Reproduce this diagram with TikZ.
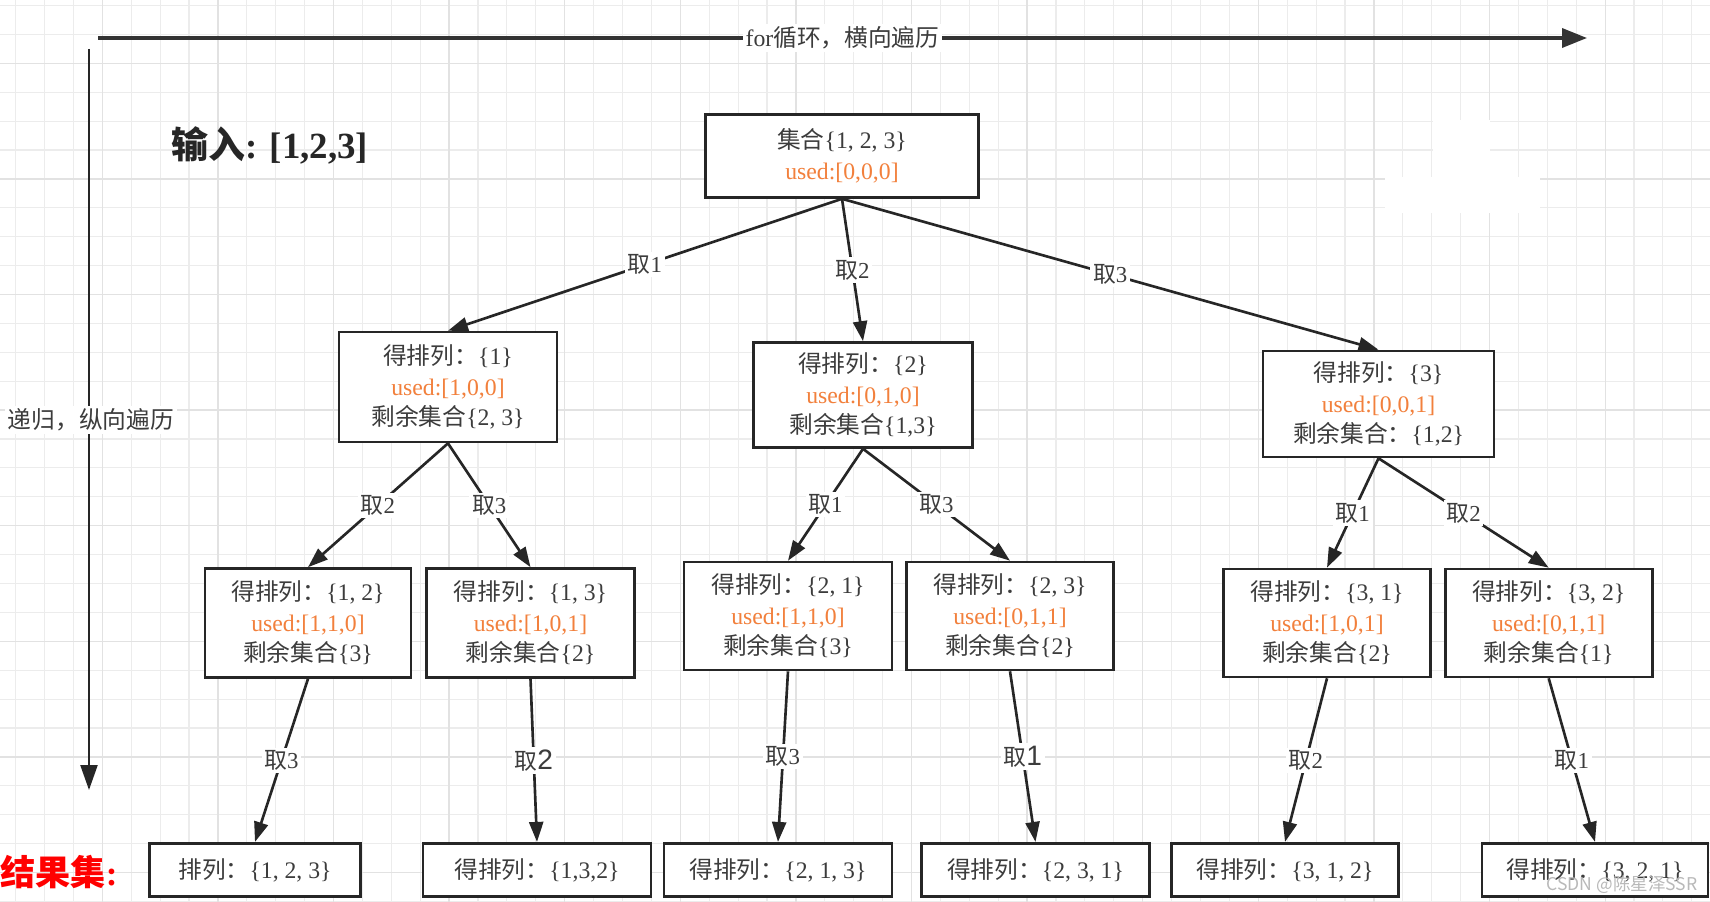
\documentclass[tikz,border=0pt]{standalone}
\usepackage{fontspec}
\setmainfont{Liberation Serif}
\setsansfont{Liberation Sans}
\newfontfamily\cjk{Noto Sans CJK SC}
\usetikzlibrary{arrows.meta}
\definecolor{usedorange}{RGB}{242,128,60}
\definecolor{txtgray}{RGB}{60,60,60}
\definecolor{gridminor}{RGB}{236,236,236}
\definecolor{gridmajor}{RGB}{226,226,226}
\newcommand\zh[1]{{\cjk #1}}
\newcommand\usedval[1]{\textcolor{usedorange}{used:[#1]}}
\begin{document}
\begin{tikzpicture}[x=0.02cm,y=-0.02cm,font=\fontsize{13.5}{17.4}\selectfont,
  box/.style={draw=black!85,line width=1.5pt,fill=white,text=txtgray,align=center,inner sep=2pt},
  edge/.style={draw=black!85,line width=1.5pt,-{Triangle[length=0.4cm,width=0.28cm]}},
  pick/.style={fill=white,text=txtgray,inner sep=1.5pt,font=\fontsize{13}{15}\selectfont}]
\useasboundingbox (0,0) rectangle (1710,902);
\fill[white] (0,0) rectangle (1710,902);
\foreach \k in {0,...,58} \draw[gridminor,line width=0.6pt] ({15.6+28.9*\k},0)--({15.6+28.9*\k},902);
\foreach \k in {0,...,31} \draw[gridminor,line width=0.6pt] (0,{5.5+28.9*\k})--(1710,{5.5+28.9*\k});
\foreach \k in {3,7,...,58} \draw[gridmajor,line width=0.7pt] ({15.6+28.9*\k},0)--({15.6+28.9*\k},902);
\foreach \k in {2,6,...,31} \draw[gridmajor,line width=0.7pt] (0,{5.5+28.9*\k})--(1710,{5.5+28.9*\k});
\fill[white] (1433,120) rectangle (1490,180);
\fill[white] (1385,177) rectangle (1540,213);
\coordinate (hs) at (98,38);
\coordinate (he) at (1587,38);
\coordinate (vs) at (89,49);
\coordinate (ve) at (89,790);
\draw[black!80,line width=2pt,-{Triangle[length=0.5cm,width=0.38cm]}] (hs)--node[pick,font=\fontsize{13.5}{15}\selectfont]{for\zh{循环，横向遍历}}(he);
\draw[black!85,line width=1.3pt,-{Triangle[length=0.5cm,width=0.34cm]}] (vs)--(ve);
\node[pick,font=\fontsize{13.5}{15}\selectfont] (vlabel) at (91,420) {\zh{递归，纵向遍历}};
\node[anchor=west,inner sep=0pt,text=black!85,font=\fontsize{21}{24}\selectfont\bfseries] (input) at (171,145) {\zh{输入}: [1,2,3]};
\node[anchor=west,inner sep=0pt,text=red,font=\fontsize{20}{24}\selectfont\bfseries] (result) at (0,872) {\zh{结果集}:};
\node[box,minimum width=5.46cm,minimum height=1.66cm] (root) at (842,156) {\zh{集合}\{1, 2, 3\}\\\usedval{0,0,0}};
\node[box,minimum width=4.36cm,minimum height=2.2cm] (a1) at (448,387) {\zh{得排列：}\{1\}\\\usedval{1,0,0}\\\zh{剩余集合}\{2, 3\}};
\node[box,minimum width=4.38cm,minimum height=2.1cm] (a2) at (863,395) {\zh{得排列：}\{2\}\\\usedval{0,1,0}\\\zh{剩余集合}\{1,3\}};
\node[box,minimum width=4.62cm,minimum height=2.12cm] (a3) at (1378.5,404) {\zh{得排列：}\{3\}\\\usedval{0,0,1}\\\zh{剩余集合：}\{1,2\}};
\node[box,minimum width=4.12cm,minimum height=2.18cm] (b1) at (308,623) {\zh{得排列：}\{1, 2\}\\\usedval{1,1,0}\\\zh{剩余集合}\{3\}};
\node[box,minimum width=4.16cm,minimum height=2.18cm] (b2) at (530.5,623) {\zh{得排列：}\{1, 3\}\\\usedval{1,0,1}\\\zh{剩余集合}\{2\}};
\node[box,minimum width=4.16cm,minimum height=2.16cm] (b3) at (788,616) {\zh{得排列：}\{2, 1\}\\\usedval{1,1,0}\\\zh{剩余集合}\{3\}};
\node[box,minimum width=4.14cm,minimum height=2.16cm] (b4) at (1010,616) {\zh{得排列：}\{2, 3\}\\\usedval{0,1,1}\\\zh{剩余集合}\{2\}};
\node[box,minimum width=4.14cm,minimum height=2.16cm] (b5) at (1327,623) {\zh{得排列：}\{3, 1\}\\\usedval{1,0,1}\\\zh{剩余集合}\{2\}};
\node[box,minimum width=4.14cm,minimum height=2.16cm] (b6) at (1548.7,623) {\zh{得排列：}\{3, 2\}\\\usedval{0,1,1}\\\zh{剩余集合}\{1\}};
\node[box,minimum width=4.23cm,minimum height=1.07cm] (c1) at (255,870) {\zh{排列：}\{1, 2, 3\}};
\node[box,minimum width=4.56cm,minimum height=1.07cm] (c2) at (537,870) {\zh{得排列：}\{1,3,2\}};
\node[box,minimum width=4.56cm,minimum height=1.07cm] (c3) at (778,870) {\zh{得排列：}\{2, 1, 3\}};
\node[box,minimum width=4.56cm,minimum height=1.07cm] (c4) at (1035.5,870) {\zh{得排列：}\{2, 3, 1\}};
\node[box,minimum width=4.54cm,minimum height=1.07cm] (c5) at (1285,870) {\zh{得排列：}\{3, 1, 2\}};
\node[box,minimum width=4.52cm,minimum height=1.07cm] (c6) at (1595,870) {\zh{得排列：}\{3, 2, 1\}};
\draw[edge] (root.south)--node[pick]{\zh{取}1}(a1.north);
\draw[edge] (root.south)--node[pick]{\zh{取}2}(a2.north);
\draw[edge] (root.south)--node[pick]{\zh{取}3}(a3.north);
\draw[edge] (a1.south)--node[pick]{\zh{取}2}(b1.north);
\draw[edge] (a1.south)--node[pick]{\zh{取}3}(b2.north);
\draw[edge] (a2.south)--node[pick]{\zh{取}1}(b3.north);
\draw[edge] (a2.south)--node[pick]{\zh{取}3}(b4.north);
\draw[edge] (a3.south)--node[pick]{\zh{取}1}(b5.north);
\draw[edge] (a3.south)--node[pick]{\zh{取}2}(b6.north);
\draw[edge] (b1.south)--node[pick]{\zh{取}3}(c1.north);
\draw[edge] (b2.south)--node[pick]{\zh{取}{\sffamily\fontsize{16}{18}\selectfont 2}}(c2.north);
\draw[edge] (b3.south)--node[pick]{\zh{取}3}(c3.north);
\draw[edge] (b4.south)--node[pick]{\zh{取}{\sffamily\fontsize{16}{18}\selectfont 1}}(c4.north);
\draw[edge] (b5.south)--node[pick]{\zh{取}2}(c5.north);
\draw[edge] (b6.south)--node[pick]{\zh{取}1}(c6.north);
\node[text=gray!55,font=\cjk\fontsize{10}{12}\selectfont] (mark) at (1622,885) {CSDN @陈星泽SSR};
\end{tikzpicture}
\end{document}
